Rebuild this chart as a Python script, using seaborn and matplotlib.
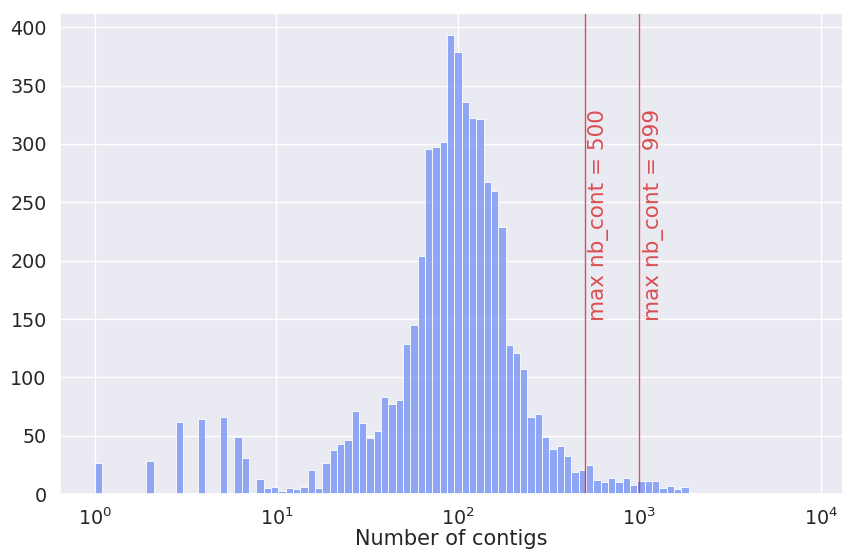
import numpy as np
import matplotlib
matplotlib.use("Agg")
import matplotlib.pyplot as plt
import seaborn as sns

# Histogram counts per log-spaced bin (82 bins between 1 and ~2050 contigs)
n_bins = 82
log_max = 3.3128
counts = [27, 0, 0, 0, 0, 0, 0, 28, 0, 0,
          0, 62, 0, 0, 64, 0, 0, 66, 0, 49,
          31, 0, 13, 5, 6, 3, 5, 4, 6, 21,
          5, 27, 38, 43, 46, 71, 61, 48, 54, 83,
          77, 81, 129, 145, 204, 296, 297, 302, 393, 379,
          336, 322, 321, 267, 260, 229, 128, 121, 107, 66,
          69, 49, 39, 41, 33, 19, 21, 25, 12, 10,
          14, 10, 14, 8, 11, 11, 11, 5, 7, 4,
          6, 1]
thresholds = [500, 999]

# bin centres (in log space) so each count lands in its own bin
log_edges = np.linspace(0, log_max, n_bins + 1)
centers = 10 ** ((log_edges[:-1] + log_edges[1:]) / 2)

sns.set_theme(style="darkgrid", font_scale=1.25)

fig, ax = plt.subplots(figsize=(8.44, 5.49), dpi=100)
sns.histplot(x=centers, weights=counts, bins=n_bins, binrange=(0, log_max),
             log_scale=True, color="#7190f5", alpha=0.75, edgecolor="white",
             linewidth=0.6, ax=ax)

# threshold lines
for t in thresholds:
    ax.axvline(t, color="#d62728", alpha=0.8, linewidth=1)
    ax.text(t * 1.045, 148, f"max nb_cont = {t}", rotation=90, color="#d62728",
            alpha=0.8, fontsize=15.5, ha="left", va="bottom")

ax.set_xlim(0.641, 13280)
ax.set_ylim(0, 412)
ax.set_xlabel("Number of contigs", labelpad=0)
ax.set_ylabel("")
ax.tick_params(axis="x", pad=4)

plt.subplots_adjust(left=0.071, right=0.999, top=0.976, bottom=0.1)
plt.savefig("out.png", dpi=100)
